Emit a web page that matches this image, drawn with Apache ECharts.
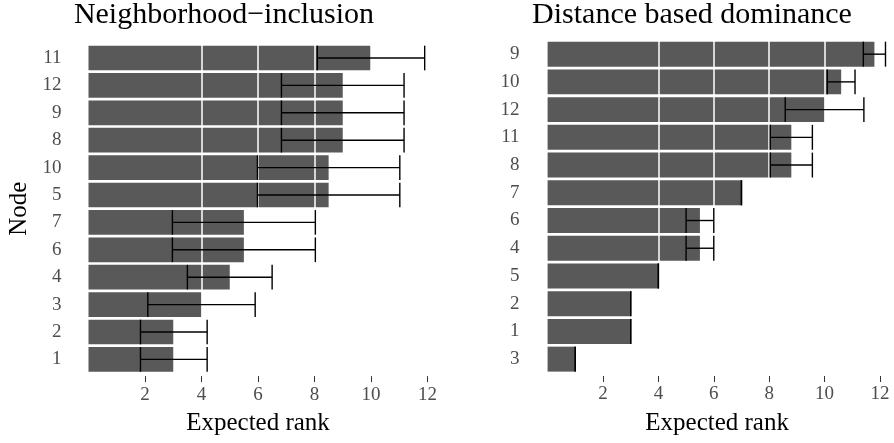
<!DOCTYPE html>
<html>
<head>
<meta charset="utf-8">
<script src="https://cdn.jsdelivr.net/npm/echarts@6/dist/echarts.min.js"></script>
<style>html,body{margin:0;padding:0;background:#fff}#c{width:894px;height:443px}</style>
</head>
<body>
<div id="c"></div>
<script>
// Left panel: Neighborhood-inclusion (bottom to top)
const leftNodes = ['1','2','3','4','6','7','5','10','8','9','12','11'];
const leftRank  = [3, 3, 4, 5, 5.5, 5.5, 8.5, 8.5, 9, 9, 9, 10];
const leftLow   = [1.84, 1.84, 2.1, 3.5, 2.97, 2.97, 5.98, 5.98, 6.83, 6.83, 6.83, 8.1];
const leftHigh  = [4.2, 4.2, 5.9, 6.5, 8.03, 8.03, 11.02, 11.02, 11.17, 11.17, 11.17, 11.9];

// Right panel: Distance based dominance (bottom to top)
const rightNodes = ['3','1','2','5','4','6','7','8','11','12','10','9'];
const rightRank  = [1, 3, 3, 4, 5.5, 5.5, 7, 8.8, 8.8, 10, 10.6, 11.8];
const rightLow   = [1, 3, 3, 4, 5.0, 5.0, 7, 8.04, 8.04, 8.58, 10.1, 11.4];
const rightHigh  = [1, 3, 3, 4, 6.0, 6.0, 7, 9.56, 9.56, 11.42, 11.1, 12.2];

const xTicks = [2, 4, 6, 8, 10, 12];
const titles = ['Neighborhood\u2212inclusion', 'Distance based dominance'];
const xName = 'Expected rank';
const yName = 'Node';

const FONT = '"Liberation Serif", "Times New Roman", serif';
const BAR = '#595959';

function errData(lo, hi) { return lo.map((v, i) => [i, v, hi[i]]); }

function renderErr(params, api) {
  const c = api.value(0);
  const p1 = api.coord([api.value(1), c]);
  const p2 = api.coord([api.value(2), c]);
  const h = api.size([0, 1])[1] * 0.45;
  const st = { stroke: '#000', lineWidth: 1.4, fill: null };
  return {
    type: 'group',
    children: [
      { type: 'line', shape: { x1: p1[0], y1: p1[1], x2: p2[0], y2: p2[1] }, style: st },
      { type: 'line', shape: { x1: p1[0], y1: p1[1] - h, x2: p1[0], y2: p1[1] + h }, style: st },
      { type: 'line', shape: { x1: p2[0], y1: p2[1] - h, x2: p2[0], y2: p2[1] + h }, style: st }
    ]
  };
}

function xAxisCfg(idx, max) {
  return {
    type: 'value', gridIndex: idx, min: 0, max: max, interval: 2, z: 3,
    offset: 3,
    axisLine: { show: false },
    axisTick: { show: true, length: 6, customValues: xTicks, lineStyle: { color: '#333', width: 1 } },
    axisLabel: { customValues: xTicks, margin: 9, fontFamily: FONT, fontSize: 19, color: '#4d4d4d' },
    splitLine: { show: true, showMinLine: false, showMaxLine: false, lineStyle: { color: '#fff', width: 1.5 } },
    name: xName, nameLocation: 'middle', nameGap: 35,
    nameTextStyle: { fontFamily: FONT, fontSize: 25, color: '#000' }
  };
}

function yAxisCfg(idx, cats, margin, withName) {
  const cfg = {
    type: 'category', gridIndex: idx, data: cats,
    axisLine: { show: false }, axisTick: { show: false },
    axisLabel: { margin: margin, fontFamily: FONT, fontSize: 19, color: '#4d4d4d' },
    splitLine: { show: false }
  };
  if (withName) {
    cfg.name = yName; cfg.nameLocation = 'middle'; cfg.nameRotate = 90; cfg.nameGap = 57;
    cfg.nameTextStyle = { fontFamily: FONT, fontSize: 25, color: '#000' };
  }
  return cfg;
}

const chart = echarts.init(document.getElementById('c'));
chart.setOption({
  animation: false,
  backgroundColor: '#fff',
  graphic: [
    { type: 'text', x: 224, y: 15.2, style: { text: titles[0], font: '30px ' + FONT, fill: '#000', textAlign: 'center', align: 'center', textVerticalAlign: 'middle', verticalAlign: 'middle' } },
    { type: 'text', x: 692, y: 15.2, style: { text: titles[1], font: '30px ' + FONT, fill: '#000', textAlign: 'center', align: 'center', textVerticalAlign: 'middle', verticalAlign: 'middle' } }
  ],
  grid: [
    { left: 88.5, top: 44.3, width: 339, height: 328.8 },
    { left: 547.6, top: 40.3, width: 339, height: 332.7 }
  ],
  xAxis: [xAxisCfg(0, 12), xAxisCfg(1, 12.24)],
  yAxis: [yAxisCfg(0, leftNodes, 27, true), yAxisCfg(1, rightNodes, 28, false)],
  series: [
    { type: 'bar', xAxisIndex: 0, yAxisIndex: 0, data: leftRank, barCategoryGap: '10%', itemStyle: { color: BAR }, z: 2 },
    { type: 'bar', xAxisIndex: 1, yAxisIndex: 1, data: rightRank, barCategoryGap: '10%', itemStyle: { color: BAR }, z: 2 },
    { type: 'custom', xAxisIndex: 0, yAxisIndex: 0, data: errData(leftLow, leftHigh), renderItem: renderErr, encode: { x: [1, 2], y: 0 }, z: 5 },
    { type: 'custom', xAxisIndex: 1, yAxisIndex: 1, data: errData(rightLow, rightHigh), renderItem: renderErr, encode: { x: [1, 2], y: 0 }, z: 5 }
  ]
});
</script>
</body>
</html>
